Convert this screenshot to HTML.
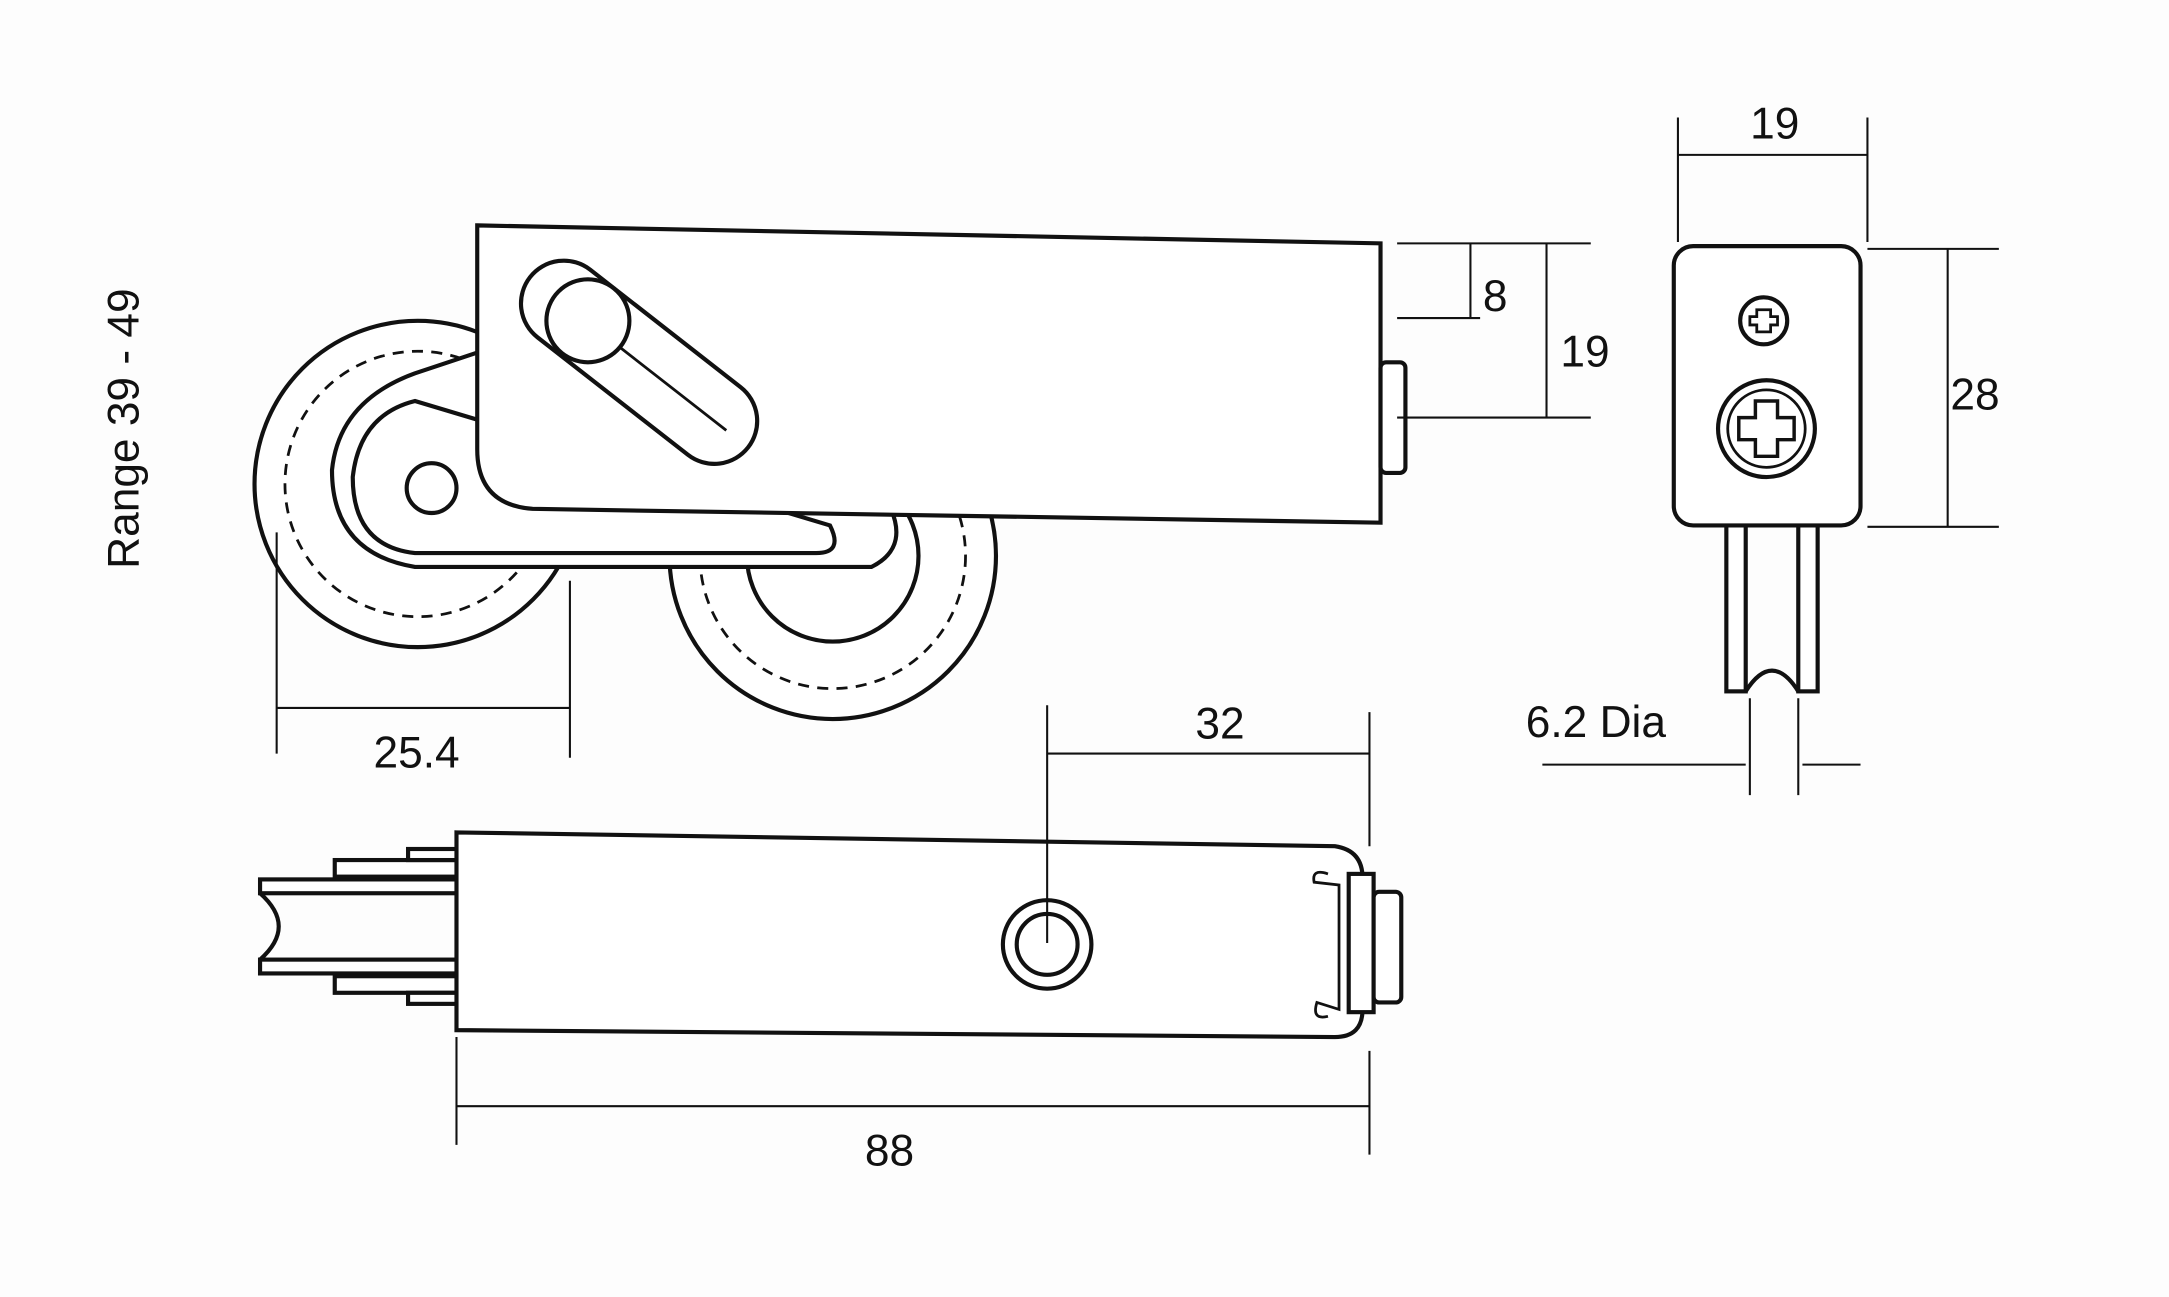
<!DOCTYPE html>
<html><head><meta charset="utf-8"><style>
html,body{margin:0;padding:0;background:#fff;}
svg{display:block;}
text{font-family:"Liberation Sans",sans-serif;fill:#111;}
</style></head><body>
<svg width="2169" height="1297" viewBox="0 0 1568 938" preserveAspectRatio="none" xmlns="http://www.w3.org/2000/svg">
<rect width="1568" height="938" fill="#fdfdfd"/>
<g fill="none" stroke="#111" stroke-width="3">
<!-- Range label -->
<text x="0" y="0" font-size="32" stroke="none" transform="translate(100,310) rotate(-90)" text-anchor="middle">Range 39 - 49</text>

<!-- wheels -->
<circle cx="302" cy="350" r="118" fill="#fff"/>
<circle cx="302" cy="350" r="96" stroke-dasharray="8 6" stroke-width="2"/>
<circle cx="602" cy="402" r="118" fill="#fff"/>
<circle cx="602" cy="402" r="96" stroke-dasharray="8 6" stroke-width="2"/>
<circle cx="602" cy="402" r="62"/>
<!-- plate -->
<path d="M300,270 L360,250 L640,360 Q660,395 630,410 L300,410 Q240,400 240,340 Q245,290 300,270 Z" fill="#fff"/>
<path d="M300,290 L600,380 Q610,400 590,400 L300,400 Q255,395 255,345 Q260,300 300,290 Z"/>
<circle cx="312" cy="353" r="18" fill="#fff"/>
<!-- body -->
<path d="M345,163 L998,176 L998,378 L385,368 Q345,365 345,325 Z" fill="#fff"/>
<rect x="998" y="262" width="18" height="80" rx="4" fill="#fff"/>
<!-- slot -->
<g transform="translate(462,262) rotate(38)">
<rect x="-100" y="-31" width="200" height="62" rx="31" fill="#fff"/>
<line x1="-20" y1="0" x2="80" y2="0" stroke-width="2"/>
</g>
<circle cx="425" cy="232" r="30" fill="#fff"/>

<!-- dims top-right -->
<g stroke-width="1.5">
<line x1="1010" y1="176" x2="1150" y2="176"/>
<line x1="1010" y1="230" x2="1070" y2="230"/>
<line x1="1010" y1="302" x2="1150" y2="302"/>
<line x1="1063" y1="176" x2="1063" y2="230"/>
<line x1="1118" y1="176" x2="1118" y2="302"/>
<!-- 25.4 -->
<line x1="200" y1="385" x2="200" y2="545"/>
<line x1="412" y1="420" x2="412" y2="548"/>
<line x1="200" y1="512" x2="412" y2="512"/>
</g>
<text x="1072" y="225" font-size="32" stroke="none">8</text>
<text x="1128" y="265" font-size="32" stroke="none">19</text>
<text x="270" y="555" font-size="32" stroke="none">25.4</text>

<!-- end view -->
<rect x="1248" y="378" width="14" height="122" fill="#fff"/>
<rect x="1300" y="378" width="14" height="122" fill="#fff"/>
<path d="M1262,500 Q1281,470 1300,500"/>
<rect x="1210" y="178" width="135" height="202" rx="14" fill="#fff"/>
<circle cx="1275" cy="232" r="17"/>
<path d="M1270,224 h10 v5 h5 v6 h-5 v5 h-10 v-5 h-5 v-6 h5 z" stroke-width="2"/>
<circle cx="1277" cy="310" r="35"/>
<circle cx="1277" cy="310" r="28" stroke-width="2"/>
<path d="M1269,290 h16 v12 h12 v16 h-12 v12 h-16 v-12 h-12 v-16 h12 z" stroke-width="2.5"/>
<g stroke-width="1.5">
<line x1="1213" y1="85" x2="1213" y2="175"/>
<line x1="1350" y1="85" x2="1350" y2="175"/>
<line x1="1213" y1="112" x2="1350" y2="112"/>
<line x1="1350" y1="180" x2="1445" y2="180"/>
<line x1="1350" y1="381" x2="1445" y2="381"/>
<line x1="1408" y1="180" x2="1408" y2="381"/>
<line x1="1265" y1="505" x2="1265" y2="575"/>
<line x1="1300" y1="505" x2="1300" y2="575"/>
<line x1="1115" y1="553" x2="1262" y2="553"/>
<line x1="1303" y1="553" x2="1345" y2="553"/>
</g>
<text x="1283" y="100" font-size="32" stroke="none" text-anchor="middle">19</text>
<text x="1410" y="296" font-size="32" stroke="none">28</text>
<text x="1103" y="533" font-size="32" stroke="none">6.2 Dia</text>

<!-- bottom view -->
<rect x="188" y="636" width="145" height="10" fill="#fff"/>
<rect x="188" y="694" width="145" height="10" fill="#fff"/>
<path d="M188,646 Q215,670 188,694"/>
<rect x="242" y="622" width="90" height="12" fill="#fff"/>
<rect x="242" y="706" width="90" height="12" fill="#fff"/>
<rect x="295" y="614" width="37" height="8" fill="#fff"/>
<rect x="295" y="718" width="37" height="8" fill="#fff"/>
<path d="M330,602 L965,612 Q985,615 985,635 L985,730 Q985,750 965,750 L330,745 Z" fill="#fff"/>
<rect x="975" y="632" width="18" height="100" fill="#fff"/>
<rect x="993" y="645" width="20" height="80" rx="4" fill="#fff"/>
<path d="M960,632 Q948,628 950,638 L968,640 L968,730 L952,725 Q948,738 960,735" stroke-width="2"/>
<circle cx="757" cy="683" r="32"/>
<circle cx="757" cy="683" r="22"/>
<g stroke-width="1.5">
<line x1="757" y1="510" x2="757" y2="682"/>
<line x1="990" y1="515" x2="990" y2="612"/>
<line x1="757" y1="545" x2="990" y2="545"/>
<line x1="330" y1="750" x2="330" y2="828"/>
<line x1="990" y1="760" x2="990" y2="835"/>
<line x1="330" y1="800" x2="990" y2="800"/>
</g>
<text x="882" y="534" font-size="32" stroke="none" text-anchor="middle">32</text>
<text x="643" y="843" font-size="32" stroke="none" text-anchor="middle">88</text>
</g>
</svg>
</body></html>
